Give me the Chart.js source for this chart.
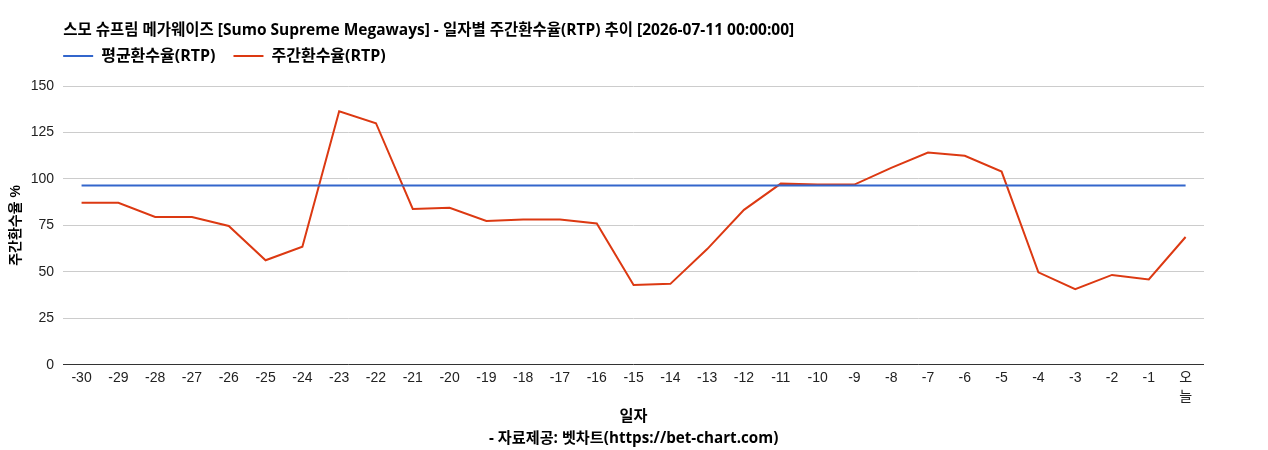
<!DOCTYPE html>
<html><head><meta charset="utf-8">
<script src="https://cdn.jsdelivr.net/npm/chart.js@4/dist/chart.umd.min.js"></script>
<style>html,body{margin:0;padding:0;background:#fff}#wrap{width:1268px;height:450px}</style>
</head><body><div id="wrap"><canvas id="c" width="1268" height="450"></canvas></div>
<script>
const categories = ['-30','-29','-28','-27','-26','-25','-24','-23','-22','-21','-20','-19','-18','-17','-16','-15','-14','-13','-12','-11','-10','-9','-8','-7','-6','-5','-4','-3','-2','-1',['오','늘']];
const weeklyRtp = [87.2,87.2,79.6,79.6,74.7,56.3,63.6,136.4,130.0,83.9,84.5,77.4,78.2,78.2,76.1,43.0,43.6,62.3,83.4,97.5,97.0,97.0,106.0,114.2,112.5,104.0,49.8,40.8,48.4,46.0,68.8];
const avgRtpValue = 96.5;
const avgRtp = categories.map(() => avgRtpValue);
const yTicks = [0,25,50,75,100,125,150];
const titleText = '스모 슈프림 메가웨이즈 [Sumo Supreme Megaways] - 일자별 주간환수율(RTP) 추이 [2026-07-11 00:00:00]';
const xTitleText = ['일자', '- 자료제공: 벳차트(https://bet-chart.com)'];
const yTitleText = '주간환수율 %';

const FONT = "'Liberation Sans', Arial, 'Noto Sans CJK KR', sans-serif";
const BFONT = "'Open Sans', 'Noto Sans CJK KR', sans-serif";
const LEGEND_PAD = 18;
const legendShift = {
  id: 'legendShift',
  afterLayout(chart) {
    const lg = chart.legend;
    if (lg) { lg.left -= LEGEND_PAD; lg.right -= LEGEND_PAD; }
  }
};
new Chart(document.getElementById('c'), {
  type: 'line',
  data: {
    labels: categories,
    datasets: [
      {label:'평균환수율(RTP)', data: avgRtp, borderColor:'#3366cc', backgroundColor:'#3366cc', borderWidth:2, pointRadius:0, tension:0},
      {label:'주간환수율(RTP)', data: weeklyRtp, borderColor:'#dc3912', backgroundColor:'#dc3912', borderWidth:2, pointRadius:0, tension:0}
    ]
  },
  plugins: [legendShift],
  options: {
    responsive:false, animation:false,
    layout:{padding:{left:0,right:64,top:0,bottom:0}},
    plugins:{
      title:{display:true, fullSize:false, text:titleText, align:'start', color:'#000', font:{family:BFONT, size:15.5, weight:'bold', lineHeight:1.2}, padding:{top:21.7,bottom:-10.3}},
      subtitle:{display:true, fullSize:false, position:'top', weight:500, text:'', font:{size:1, lineHeight:1}, padding:{top:11,bottom:0}},
      legend:{display:true, fullSize:false, align:'start', labels:{boxWidth:30, boxHeight:0, color:'#000', font:{family:BFONT, size:16, weight:'bold'}, padding:LEGEND_PAD}},
      tooltip:{enabled:false}
    },
    scales:{
      x:{offset:true, grid:{display:false, drawTicks:false}, border:{display:false},
         ticks:{color:'#222', font:{family:FONT, size:14, lineHeight:1.4}, maxRotation:0, autoSkip:false, padding:3},
         title:{display:true, text:xTitleText, color:'#000', font:{family:BFONT, size:15.2, weight:'bold', lineHeight:1.4}, padding:{top:-3.7,bottom:1}}},
      y:{min:0, max:150, border:{display:false},
         afterBuildTicks:(s)=>{s.ticks = yTicks.map(v=>({value:v}));},
         grid:{color:(ctx)=>ctx.tick && ctx.tick.value===0 ? '#333' : '#ccc', lineWidth:1, drawTicks:false},
         ticks:{color:'#222', font:{family:FONT, size:14}, padding:9},
         title:{display:true, text:yTitleText, color:'#000', font:{family:FONT, size:14, weight:'bold'}, padding:{top:8,bottom:-3}}}
    }
  }
});
</script></body></html>
